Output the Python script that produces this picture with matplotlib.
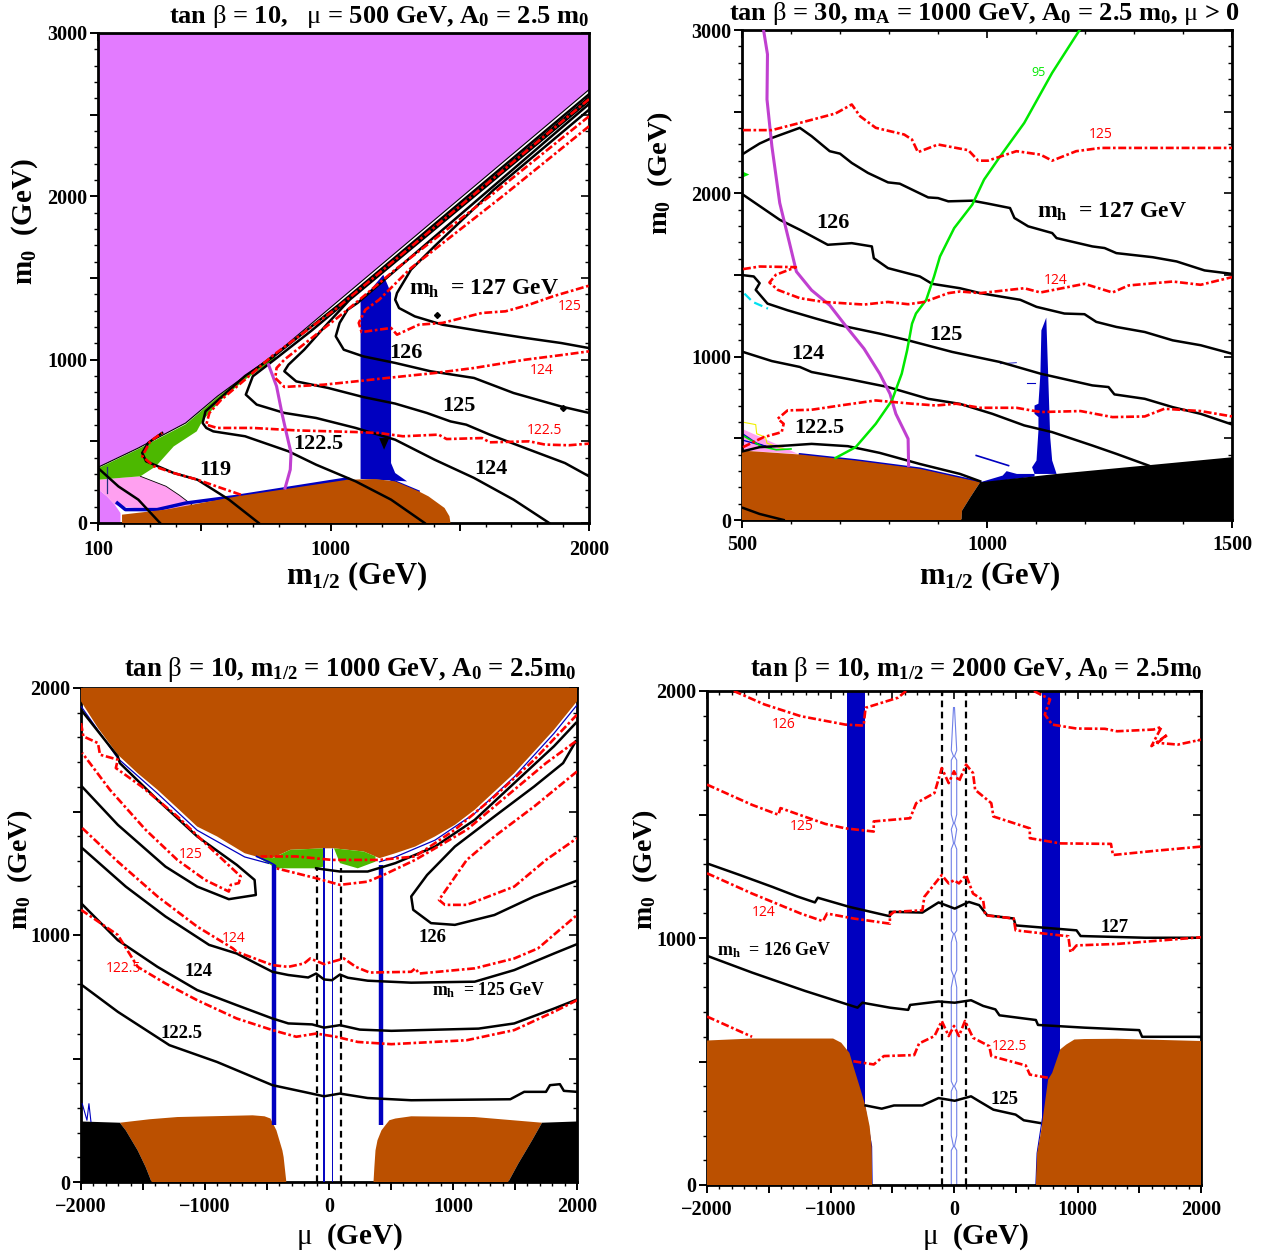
#!/usr/bin/python3
import matplotlib
matplotlib.use('Agg')
import matplotlib.pyplot as plt

plt.rcParams['font.family'] = ['Liberation Serif', 'DejaVu Serif']
plt.rcParams['font.weight'] = 'bold'
plt.rcParams['mathtext.fontset'] = 'custom'
plt.rcParams['mathtext.rm'] = 'Liberation Serif:bold'
plt.rcParams['mathtext.it'] = 'Liberation Serif:weight=regular'
plt.rcParams['mathtext.bf'] = 'Liberation Serif:bold'

W, H = 1267, 1256
PURPLE, PINK, GREEN, BROWN = '#e37bff', '#ffa0f0', '#4cb800', '#bb5000'
BLUE, RED, MAGENTA, LIME = '#0000c0', '#ff0000', '#c040d0', '#00e800'

# ---- top left panel: tan beta = 10, mu = 500
a_purple_x = [100, 100, 256, 439, 562, 791, 944, 2000, 2000]
a_purple_y = [3000, 341, 459, 612, 776, 1041, 1245, 2653, 3000]
a_purple2_x = [100, 187, 187, 165, 135, 103, 100]
a_purple2_y = [0, 0, 61, 112, 163, 204, 265]
a_edge_x = [100, 256, 439, 562, 791, 944, 2000]
a_edge_y = [341, 459, 612, 776, 1041, 1245, 2653]
a_pink_x = [100, 264, 363, 415, 463, 353, 253, 190, 165, 135, 103, 100]
a_pink_y = [265, 286, 225, 170, 112, 71, 90, 100, 112, 163, 204, 265]
a_green_x = [100, 256, 439, 562, 776, 791, 669, 577, 505, 482, 393, 324, 264, 100]
a_green_y = [335, 453, 604, 770, 1031, 1010, 878, 755, 628, 561, 469, 347, 286, 265]
a_brown_x = [193, 193, 361, 638, 1066, 1173, 1250, 1341, 1379, 1441, 1460, 1464]
a_brown_y = [0, 51, 82, 163, 265, 269, 255, 194, 163, 92, 41, 0]
a_blue_x = [1116, 1116, 1204, 1234, 1234, 1250, 1296, 1116]
a_blue_y = [270, 1357, 1520, 1408, 367, 306, 255, 270]
a_rim_x = [175, 206, 329, 439, 638, 1066]
a_rim_y = [122, 82, 82, 122, 163, 270]
a_rim2_x = [1234, 1341]
a_rim2_y = [265, 194]
a_tri_x = [1188, 1227, 1207]
a_tri_y = [520, 520, 449]
a_dot_x = [1413, 1899]
a_dot_y = [1276, 704]
a_stub_x = [134, 134]
a_stub_y = [185, 345]

a_127_x = [2000, 1632, 1402, 1311, 1257, 1250, 1265, 1326, 1433, 1586, 1754, 1892, 2000]
a_127_y = [2530, 2041, 1694, 1551, 1408, 1367, 1316, 1265, 1214, 1174, 1133, 1102, 1071]
a_126_x = [2000, 1104, 1066, 1035, 1020, 1051, 1127, 1250, 1387, 1555, 1708, 1891, 2000]
a_126_y = [2565, 1347, 1306, 1225, 1143, 1061, 1020, 980, 929, 888, 796, 714, 674]
a_125_x = [2000, 1074, 990, 898, 837, 821, 867, 990, 1127, 1250, 1372, 1464, 1525, 1616, 1769, 1907, 2000]
a_125_y = [2585, 1367, 1224, 1061, 969, 929, 867, 827, 771, 731, 674, 622, 602, 541, 449, 367, 286]
a_124_x = [2000, 928, 791, 699, 672, 714, 821, 944, 1097, 1250, 1402, 1555, 1708, 1846]
a_124_y = [2605, 1180, 1010, 898, 786, 725, 674, 643, 582, 510, 388, 276, 143, 0]
a_1225_x = [2000, 1035, 776, 669, 577, 516, 505, 519, 546, 669, 837, 944, 1097, 1234, 1364]
a_1225_y = [2625, 1340, 1015, 900, 770, 684, 612, 582, 561, 531, 439, 357, 255, 143, 0]
a_119_x = [348, 294, 271, 286, 393, 485, 607, 722]
a_119_y = [551, 490, 429, 378, 306, 265, 143, 0]
a_left_x = [100, 179, 256, 340]
a_left_y = [337, 224, 143, 0]
a_black = [(a_127_x, a_127_y), (a_126_x, a_126_y), (a_125_x, a_125_y), (a_124_x, a_124_y),
           (a_1225_x, a_1225_y), (a_119_x, a_119_y), (a_left_x, a_left_y)]

a_r125_x = [2000, 1677, 1311, 1188, 1135, 1109, 1120, 1234, 1257, 1341, 1433, 1586, 1677, 1769, 1861, 2000]
a_r125_y = [2429, 2015, 1561, 1367, 1306, 1225, 1169, 1194, 1153, 1214, 1225, 1286, 1296, 1337, 1388, 1453]
a_r124_x = [2000, 1632, 1250, 1066, 821, 791, 786, 821, 974, 1097, 1219, 1402, 1555, 1754, 1907, 2000]
a_r124_y = [2490, 2020, 1551, 1306, 1000, 949, 888, 833, 847, 867, 888, 918, 949, 1000, 1031, 1051]
a_r1225_x = [2000, 1020, 776, 669, 577, 531, 519, 561, 699, 867, 1097, 1188, 1280, 1418, 1449, 1586, 1616, 1769, 1830, 1922, 2000]
a_r1225_y = [2595, 1310, 1025, 878, 755, 674, 602, 582, 582, 567, 557, 551, 531, 541, 514, 520, 494, 500, 480, 476, 486]
a_r119_x = [653, 577, 485, 393, 317, 271, 302, 348]
a_r119_y = [173, 214, 265, 306, 347, 408, 500, 551]
a_red = [(a_r125_x, a_r125_y), (a_r124_x, a_r124_y), (a_r1225_x, a_r1225_y), (a_r119_x, a_r119_y)]
a_mag_x = [760, 791, 813, 829, 847, 844, 824]
a_mag_y = [969, 837, 663, 551, 429, 327, 214]

# ---- top right panel: tan beta = 30, mA = 1000
b_brown_x = [500, 618, 732, 863, 986, 966, 949, 948, 500]
b_brown_y = [425, 401, 364, 313, 231, 139, 57, 0, 0]
b_black_x = [948, 949, 966, 986, 1142, 1500, 1500]
b_black_y = [0, 57, 139, 231, 282, 384, 0]
b_pink_x = [500, 569, 614, 500]
b_pink_y = [558, 466, 405, 425]
b_spike_x = [1121, 1111, 1109, 1105, 1097, 1097, 1105, 1105, 1101, 1092, 1097, 1142, 1133, 1129, 1125]
b_spike_y = [1239, 1161, 896, 712, 701, 650, 630, 548, 364, 323, 282, 282, 364, 507, 875]
b_blob_x = [986, 1032, 1040, 1061, 1097, 1097, 986]
b_blob_y = [231, 272, 299, 282, 282, 266, 225]
b_rim_x = [618, 732, 863, 986]
b_rim_y = [403, 366, 315, 233]
b_smear_x = [978, 1044]
b_smear_y = [395, 333]
b_bit1_x = [1082, 1098]
b_bit1_y = [838, 838]
b_bit2_x = [1027, 1060]
b_bit2_y = [957, 963]
b_yellow_x = [500, 528, 530, 548, 551, 585]
b_yellow_y = [600, 584, 528, 507, 470, 435]
b_cyan_x = [505, 522, 553]
b_cyan_y = [1386, 1335, 1294]
b_tangle1_x = [500, 530, 560, 500]
b_tangle1_y = [530, 470, 440, 490]
b_tangle2_x = [500, 540, 570, 600]
b_tangle2_y = [520, 450, 430, 435]
b_arrow_x = [500, 515, 500]
b_arrow_y = [2135, 2115, 2095]

b_127_x = [502, 516, 536, 561, 618, 642, 679, 700, 724, 757, 798, 822, 880, 900, 921, 970, 1002, 1047, 1056, 1084, 1133, 1142, 1215, 1240, 1264, 1338, 1387, 1444, 1500]
b_127_y = [2241, 2268, 2305, 2339, 2401, 2350, 2258, 2243, 2186, 2125, 2067, 2059, 1975, 1971, 1951, 1955, 1937, 1910, 1849, 1798, 1757, 1726, 1675, 1665, 1634, 1609, 1583, 1528, 1507]
b_126_x = [502, 577, 618, 675, 724, 765, 769, 798, 863, 888, 945, 986, 1068, 1101, 1158, 1199, 1223, 1264, 1322, 1379, 1436, 1500]
b_126_y = [1992, 1838, 1777, 1685, 1695, 1675, 1603, 1542, 1491, 1446, 1419, 1389, 1348, 1305, 1264, 1260, 1213, 1182, 1151, 1100, 1070, 1018]
b_125_x = [502, 524, 536, 528, 552, 593, 651, 700, 781, 839, 929, 1027, 1109, 1215, 1248, 1260, 1322, 1379, 1436, 1500]
b_125_y = [1499, 1491, 1450, 1409, 1325, 1284, 1233, 1192, 1141, 1100, 1029, 967, 896, 824, 814, 769, 742, 691, 650, 585]
b_124_x = [502, 561, 618, 642, 724, 798, 880, 945, 1011, 1076, 1133, 1215, 1264, 1330]
b_124_y = [1029, 973, 937, 906, 859, 814, 742, 711, 650, 579, 538, 456, 405, 333]
b_1225_x = [502, 536, 593, 642, 716, 781, 863, 945, 986]
b_1225_y = [421, 446, 456, 466, 452, 411, 343, 282, 237]
b_low_x = [502, 536, 585]
b_low_y = [74, 37, 0]
b_black_lines = [(b_127_x, b_127_y), (b_126_x, b_126_y), (b_125_x, b_125_y), (b_124_x, b_124_y),
                 (b_1225_x, b_1225_y), (b_low_x, b_low_y)]

b_r125_x = [502, 561, 618, 691, 724, 741, 773, 831, 847, 859, 900, 962, 982, 1002, 1060, 1109, 1133, 1182, 1232, 1500]
b_r125_y = [2387, 2387, 2431, 2489, 2544, 2472, 2401, 2360, 2329, 2252, 2299, 2264, 2200, 2200, 2258, 2237, 2200, 2258, 2278, 2278]
b_r124_x = [502, 536, 610, 569, 556, 573, 618, 667, 749, 798, 839, 872, 921, 945, 986, 1076, 1109, 1199, 1256, 1289, 1379, 1436, 1500]
b_r124_y = [1536, 1552, 1548, 1501, 1454, 1409, 1358, 1335, 1319, 1335, 1321, 1335, 1389, 1399, 1389, 1419, 1393, 1446, 1393, 1436, 1460, 1440, 1487]
b_r1225_x = [502, 544, 581, 585, 573, 593, 642, 700, 773, 847, 896, 937, 986, 1060, 1109, 1191, 1256, 1322, 1362, 1436, 1500]
b_r1225_y = [446, 507, 538, 589, 620, 671, 675, 701, 732, 712, 701, 712, 687, 687, 661, 667, 630, 634, 681, 667, 634]
b_red = [(b_r125_x, b_r125_y), (b_r124_x, b_r124_y), (b_r1225_x, b_r1225_y)]
b_mag_x = [544, 552, 551, 561, 577, 597, 611, 642, 679, 716, 749, 781, 802, 814, 839, 840]
b_mag_y = [3000, 2851, 2575, 2288, 1941, 1695, 1521, 1407, 1315, 1172, 1049, 896, 773, 650, 497, 333]
b_lime_x = [1189, 1133, 1076, 1027, 994, 970, 933, 904, 892, 876, 855, 847, 837, 826, 806, 773, 732, 691]
b_lime_y = [3000, 2738, 2431, 2227, 2084, 1931, 1787, 1613, 1491, 1348, 1264, 1202, 1039, 896, 732, 589, 446, 380]

# ---- bottom left panel: m1/2 = 1000
c_top_x = [-2000, -2000, -1863, -1703, -1543, -1383, -1223, -1063, -903, -680, -488, -312, -40, 40, 280, 407, 535, 695, 855, 1015, 1175, 1334, 1494, 1654, 1814, 2000, 2000]
c_top_y = [2000, 1946, 1838, 1730, 1655, 1588, 1514, 1439, 1399, 1331, 1304, 1345, 1351, 1351, 1338, 1311, 1331, 1358, 1399, 1446, 1507, 1581, 1655, 1743, 1831, 1946, 2000]
c_green1_x = [-584, -424, -104, -40, -40, -312, -456]
c_green1_y = [1318, 1270, 1270, 1277, 1351, 1345, 1311]
c_green2_x = [40, 88, 232, 375, 375, 280]
c_green2_y = [1351, 1291, 1270, 1297, 1318, 1338]
c_brown1_x = [-1687, -1447, -1223, -616, -520, -472, -424, -408, -376, -366, -344, -1431, -1479, -1543, -1639]
c_brown1_y = [240, 254, 263, 270, 266, 257, 209, 182, 128, 101, 0, 0, 61, 128, 209]
c_brown2_x = [359, 366, 375, 391, 423, 455, 487, 535, 663, 1175, 1718, 1638, 1590, 1526, 1446]
c_brown2_y = [0, 61, 128, 169, 209, 230, 250, 257, 266, 263, 240, 169, 128, 74, 0]
c_black1_x = [-2000, -1687, -1639, -1543, -1479, -1431, -2000]
c_black1_y = [245, 240, 209, 128, 61, 0, 0]
c_black2_x = [1718, 2000, 2000, 1446, 1526, 1590, 1638]
c_black2_y = [240, 245, 0, 0, 74, 128, 169]
c_rim_x = [-2000, -1703, -1383, -1063, -680, -488]
c_rim_y = [1926, 1715, 1573, 1424, 1316, 1290]
c_rim2_x = [407, 535, 855, 1175, 1494, 1814, 2000]
c_rim2_y = [1296, 1316, 1384, 1492, 1640, 1816, 1931]
c_band_x = [-440, 423]
c_thin_x = [-37, 27]
c_band_top = [1284, 1284]
c_hook_x = [-584, -488, -440]
c_hook_y = [1318, 1297, 1284]
c_spike_x = [-1990, -1952, -1936, -1920]
c_spike_y = [317, 250, 317, 245]
c_dash_x = [-100, 100]
c_dash_top = 1270

c_loop_x = [-2000, -1703, -1687, -1383, -1063, -744, -600, -590, -808, -1063, -1319, -1703, -2000]
c_loop_y = [1912, 1723, 1696, 1547, 1399, 1284, 1223, 1162, 1145, 1196, 1277, 1446, 1605]
c_126_x = [-104, 88, 312, 535, 855, 1175, 1494, 1814, 1990]
c_126_y = [1270, 1257, 1257, 1291, 1358, 1466, 1615, 1764, 1858]
c_rloop_x = [1990, 1888, 1654, 1334, 1015, 791, 663, 679, 823, 1015, 1334, 1654, 2000]
c_rloop_y = [1784, 1696, 1601, 1480, 1358, 1243, 1156, 1102, 1048, 1041, 1081, 1156, 1220]
c_125_x = [-2000, -1639, -1319, -967, -744, -456, -328, -168, -104, -40, 24, 88, 152, 312, 663, 1175, 1494, 1814, 2000]
c_125_y = [1356, 1196, 1075, 960, 925, 851, 838, 828, 844, 820, 817, 840, 827, 815, 807, 811, 858, 925, 963]
c_124_x = [-2000, -1703, -1383, -1063, -744, -456, -328, -136, -40, 88, 248, 503, 1206, 1494, 1814, 2000]
c_124_y = [1129, 979, 871, 777, 716, 662, 642, 638, 625, 635, 617, 612, 621, 642, 702, 739]
c_1225_x = [-2000, -1703, -1287, -903, -456, -168, -40, 88, 312, 663, 1462, 1574, 1750, 1782, 1862, 1894, 2000]
c_1225_y = [800, 689, 554, 486, 392, 361, 347, 358, 340, 331, 335, 365, 365, 392, 396, 369, 365]
c_black_lines = [(c_loop_x, c_loop_y), (c_126_x, c_126_y), (c_rloop_x, c_rloop_y), (c_125_x, c_125_y),
                 (c_124_x, c_124_y), (c_1225_x, c_1225_y)]

c_r1_x = [-2000, -1981, -1863, -1847, -1703, -1719, -1511, -1223, -999, -712, -728, -792, -808, -999, -1223, -1479, -1767, -1990]
c_r1_y = [1858, 1804, 1777, 1730, 1710, 1676, 1601, 1480, 1372, 1237, 1210, 1203, 1176, 1223, 1304, 1426, 1588, 1737]
c_r2_x = [-1990, -1703, -1383, -1063, -776, -744, -456, -328, -200, -152, -40, 120, 216, 327, 663, 695, 727, 1175, 1494, 1686, 2000]
c_r2_y = [1433, 1297, 1156, 1034, 946, 932, 878, 871, 885, 905, 882, 905, 871, 848, 851, 865, 844, 865, 905, 946, 1081]
c_r3_x = [-2000, -1703, -1543, -1319, -1063, -744, -456, -264, -104, 56, 232, 503, 1111, 1494, 1814, 2000]
c_r3_y = [1102, 1000, 871, 804, 736, 662, 615, 588, 601, 588, 567, 558, 574, 615, 689, 736]
c_r4_x = [2000, 1654, 1334, 1015, 695, 407, 216, 24, -264, -552]
c_r4_y = [1892, 1709, 1561, 1426, 1318, 1304, 1304, 1304, 1318, 1318]
c_r5_x = [1990, 1750, 1430, 1111, 695, 439, 312, 88, -104, -424]
c_r5_y = [1784, 1696, 1561, 1426, 1304, 1243, 1216, 1203, 1230, 1270]
c_r6_x = [2000, 1654, 1334, 1111, 887, 935, 1111, 1494, 1750, 2000]
c_r6_y = [1662, 1520, 1399, 1304, 1142, 1122, 1122, 1196, 1304, 1392]
c_red = [(c_r1_x, c_r1_y), (c_r2_x, c_r2_y), (c_r3_x, c_r3_y), (c_r4_x, c_r4_y), (c_r5_x, c_r5_y), (c_r6_x, c_r6_y)]

# ---- bottom right panel: m1/2 = 2000
d_brown1_x = [-2000, -1635, -979, -913, -847, -815, -765, -716, -683, -667, -663, -2000]
d_brown1_y = [585, 593, 593, 576, 535, 481, 400, 318, 237, 156, 0, 0]
d_brown2_x = [663, 673, 703, 762, 795, 860, 910, 975, 1057, 1320, 2000, 2000]
d_brown2_y = [0, 129, 210, 427, 454, 549, 569, 589, 591, 592, 583, 0]
d_band_left = [-867, 716]
d_band_right = [-723, 860]
d_rim1_x = [-723, -667, -663]
d_rim1_y = [318, 156, 0]
d_rim2_x = [663, 673, 716]
d_rim2_y = [0, 129, 270]
d_dash_x = [-100, 100]
d_lens_y = [0, 20, 140, 156, 200, 380, 400, 420, 800, 847, 870, 982, 1017, 1030, 1360, 1383, 1440, 1465, 1500, 1720, 1736, 1760, 1933]
d_lens_w = [22, 22, 22, 4, 22, 22, 4, 22, 22, 4, 22, 22, 4, 22, 22, 4, 22, 4, 22, 22, 4, 22, 4]

d_127_x = [-2000, -1734, -1471, -1274, -1126, -1103, -847, -519, -519, -256, -125, 6, 121, 204, 269, 483, 499, 992, 1025, 1550, 2000]
d_127_y = [1302, 1255, 1207, 1169, 1144, 1163, 1126, 1088, 1106, 1103, 1144, 1119, 1146, 1133, 1092, 1079, 1051, 1031, 1008, 1001, 1001]
d_126_x = [-2000, -1635, -1208, -781, -742, -519, -371, -355, -125, 6, 138, 236, 335, 368, 663, 680, 1057, 1500, 1523, 2000]
d_126_y = [928, 860, 786, 718, 738, 718, 709, 729, 743, 738, 748, 725, 711, 687, 668, 648, 637, 627, 600, 600]
d_125_x = [-716, -585, -486, -256, -125, 6, 138, 204, 319, 499, 565, 696]
d_125_y = [322, 309, 322, 322, 352, 341, 359, 339, 305, 285, 262, 251]
d_black = [(d_127_x, d_127_y), (d_126_x, d_126_y), (d_125_x, d_125_y)]

d_r126a_x = [-1783, -1537, -1241, -880, -732, -716, -453, -388]
d_r126a_y = [2000, 1946, 1898, 1864, 1860, 1932, 1973, 2000]
d_r126b_x = [647, 778, 735, 795, 992, 1222, 1320, 1616, 1681, 1599, 1731, 1648, 1813, 2000]
d_r126b_y = [2000, 1966, 1905, 1864, 1848, 1847, 1837, 1844, 1855, 1777, 1824, 1790, 1783, 1803]
d_r125_x = [-2000, -1635, -1422, -1405, -1043, -880, -650, -650, -355, -306, -158, -99, -43, 0, 40, 98, 154, 171, 302, 319, 614, 614, 861, 1271, 1287, 1648, 2000]
d_r125_y = [1621, 1539, 1499, 1526, 1462, 1444, 1431, 1472, 1485, 1546, 1587, 1688, 1627, 1675, 1634, 1702, 1668, 1600, 1546, 1492, 1444, 1404, 1383, 1381, 1336, 1354, 1370]
d_r124_x = [-2000, -1635, -1241, -1061, -1028, -814, -519, -519, -486, -256, -240, -99, -43, 0, 40, 98, 154, 236, 253, 483, 499, 926, 943, 992, 1320, 2000]
d_r124_y = [1262, 1180, 1099, 1068, 1099, 1079, 1058, 1092, 1106, 1112, 1167, 1255, 1221, 1234, 1221, 1255, 1180, 1153, 1092, 1079, 1031, 1007, 942, 970, 976, 1003]
d_r1225a_x = [-2000, -1635]
d_r1225a_y = [682, 600]
d_r1225b_x = [-815, -650, -568, -322, -283, -158, -99, -43, 0, 40, 89, 154, 286, 302, 581, 614, 762]
d_r1225b_y = [501, 488, 522, 526, 573, 603, 664, 603, 644, 603, 664, 596, 562, 522, 484, 447, 434]
d_red = [(d_r126a_x, d_r126a_y), (d_r126b_x, d_r126b_y), (d_r125_x, d_r125_y), (d_r124_x, d_r124_y),
         (d_r1225a_x, d_r1225a_y), (d_r1225b_x, d_r1225b_y)]

# ---- tick marks and labels
xt_a = [100, 500, 1000, 1500, 2000]
xl_a = ['100', '', '1000', '', '2000']
xt_b = [500, 1000, 1500]
xl_b = ['500', '1000', '1500']
xt_mu = [-2000, -1500, -1000, -500, 0, 500, 1000, 1500, 2000]
xl_mu = ['\u22122000', '', '\u22121000', '', '0', '', '1000', '', '2000']
yt_3000 = [0, 500, 1000, 1500, 2000, 2500, 3000]
yl_3000 = ['0', '', '1000', '', '2000', '', '3000']
yt_2000 = [0, 500, 1000, 1500, 2000]
yl_2000 = ['0', '', '1000', '', '2000']

TITLE_A = r'tan $\mathit{β}$ = 10,   $\mathit{μ}$ = 500 GeV, A$_{\mathrm{0}}$ = 2.5 m$_{\mathrm{0}}$'
TITLE_B = r'tan $\mathit{β}$ = 30, m$_{\mathrm{A}}$ = 1000 GeV, A$_{\mathrm{0}}$ = 2.5 m$_{\mathrm{0}}$, $\mathit{μ}$ > 0'
TITLE_C = r'tan $\mathit{β}$ = 10, m$_{\mathrm{1/2}}$ = 1000 GeV, A$_{\mathrm{0}}$ = 2.5m$_{\mathrm{0}}$'
TITLE_D = r'tan $\mathit{β}$ = 10, m$_{\mathrm{1/2}}$ = 2000 GeV, A$_{\mathrm{0}}$ = 2.5m$_{\mathrm{0}}$'
M0 = r'm$_{\mathrm{0}}$  (GeV)'
M12 = r'm$_{\mathrm{1/2}}$ (GeV)'
MU = r'$\mathit{μ}$  (GeV)'

fig = plt.figure(figsize=(W / 100, H / 100), dpi=100)


def px(x, y, s, size=16, color='k', ha='center', va='center', **kw):
    fig.text(x / W, 1 - y / H, s, fontsize=size, color=color, ha=ha, va=va, **kw)


def red_label(x, y, s):
    px(x, y, s, size=10, color=RED, family='Open Sans', weight='normal')


def panel(box, xlim, ylim, xt, xl, yt, yl, xminor, xpad, top=True):
    left, top_px, right, bottom = box
    ax = fig.add_axes([left / W, 1 - bottom / H, (right - left) / W, (bottom - top_px) / H])
    ax.set_xlim(xlim)
    ax.set_ylim(ylim)
    ax.set_xticks(xt, xl)
    ax.set_yticks(yt, yl)
    ax.set_xticks(xminor, minor=True)
    ax.set_yticks(range(ylim[0], ylim[1] + 1, 100), minor=True)
    ax.tick_params(axis='x', which='major', direction='out', length=6, width=1.4, pad=xpad, labelsize=14.5)
    ax.tick_params(axis='y', which='major', direction='out', length=6, width=1.4, pad=1.5, labelsize=14.5)
    ax.tick_params(which='minor', direction='out', length=3, width=1)
    for sp in ax.spines.values():
        sp.set_linewidth(2)
    if top:
        sec = ax.secondary_xaxis('top')
        sec.set_xticks(xt, [''] * len(xt))
        sec.set_xticks(xminor, minor=True)
        sec.tick_params(which='major', direction='in', length=6, width=1.2)
        sec.tick_params(which='minor', direction='in', length=3, width=1)
        sec.spines['top'].set_visible(False)
    sec = ax.secondary_yaxis('right')
    sec.set_yticks(yt, [''] * len(yt))
    sec.set_yticks(range(ylim[0], ylim[1] + 1, 100), minor=True)
    sec.tick_params(which='major', direction='in', length=6, width=1.2)
    sec.tick_params(which='minor', direction='in', length=3, width=1)
    sec.spines['right'].set_visible(False)
    return ax


def blacks(ax, curves):
    for x, y in curves:
        ax.plot(x, y, color='k', lw=1.8, zorder=5)


def reds(ax, curves):
    for x, y in curves:
        ax.plot(x, y, color=RED, lw=1.9, ls=(0, (3, 1, 1, 1)), zorder=6)


# top left
ax = panel((98, 33, 589, 523), (100, 2000), (0, 3000), xt_a, xl_a, yt_3000, yl_3000, range(100, 2001, 100), 6)
ax.fill(a_purple_x, a_purple_y, color=PURPLE, lw=0, zorder=1)
ax.fill(a_purple2_x, a_purple2_y, color=PURPLE, lw=0, zorder=1)
ax.fill(a_pink_x, a_pink_y, color=PINK, lw=0, zorder=1)
ax.plot(a_pink_x[1:5], a_pink_y[1:5], color='k', lw=0.6, zorder=2)
ax.fill(a_green_x, a_green_y, color=GREEN, lw=0, zorder=2)
ax.fill(a_blue_x, a_blue_y, color=BLUE, lw=0, zorder=3)
ax.fill(a_brown_x, a_brown_y, color=BROWN, lw=0, zorder=4)
ax.plot(a_rim_x, a_rim_y, color=BLUE, lw=2.5, zorder=3)
ax.plot(a_rim2_x, a_rim2_y, color=BLUE, lw=1.5, zorder=3)
ax.plot(a_stub_x, a_stub_y, color='#203080', lw=0.9, zorder=3)
ax.fill(a_tri_x, a_tri_y, color='k', lw=0, zorder=5)
ax.plot(a_dot_x, a_dot_y, ls='none', marker='D', ms=3, color='k', zorder=5)
ax.plot(a_edge_x, a_edge_y, color='k', lw=0.8, zorder=5)
blacks(ax, a_black)
reds(ax, a_red)
ax.plot(a_mag_x, a_mag_y, color=MAGENTA, lw=2.2, zorder=5)
px(589, 23, TITLE_A, size=19, ha='right', va='baseline')
px(25, 222, M0, size=21, rotation=90)
px(357, 584, M12, size=22, va='baseline')
px(409, 295, r'm$_{\mathrm{h}}$  = 127 GeV', size=17, ha='left', va='baseline')
px(406, 353, '126')
px(459, 406, '125')
px(491, 469, '124')
px(318, 444, '122.5')
px(215, 470, '119')
red_label(570, 307, '125')
red_label(542, 370, '124')
red_label(544, 431, '122.5')

# top right
ax = panel((742, 30, 1232, 520), (500, 1500), (0, 3000), xt_b, xl_b, yt_3000, yl_3000, range(500, 1501, 100), 5)
ax.fill(b_pink_x, b_pink_y, color=PINK, lw=0, zorder=1)
ax.plot(b_yellow_x, b_yellow_y, color='#f0f000', lw=0.8, zorder=2)
ax.plot(b_cyan_x, b_cyan_y, color='#00e0f0', lw=1.6, ls=(0, (4, 2)), zorder=2)
ax.plot(b_tangle1_x, b_tangle1_y, color=BLUE, lw=1, zorder=2)
ax.plot(b_tangle2_x, b_tangle2_y, color=LIME, lw=1.2, zorder=2)
ax.fill(b_arrow_x, b_arrow_y, color=LIME, lw=0, zorder=2)
ax.fill(b_spike_x, b_spike_y, color=BLUE, lw=0, zorder=3)
ax.fill(b_blob_x, b_blob_y, color=BLUE, lw=0, zorder=3)
ax.plot(b_smear_x, b_smear_y, color=BLUE, lw=1.2, zorder=3)
ax.plot(b_bit1_x, b_bit1_y, color=BLUE, lw=0.8, zorder=3)
ax.plot(b_bit2_x, b_bit2_y, color=BLUE, lw=0.6, zorder=3)
ax.plot(b_rim_x, b_rim_y, color=BLUE, lw=1.6, zorder=3)
ax.fill(b_brown_x, b_brown_y, color=BROWN, lw=0, zorder=4)
ax.fill(b_black_x, b_black_y, color='k', lw=0, zorder=4)
blacks(ax, b_black_lines)
reds(ax, b_red)
ax.plot(b_mag_x, b_mag_y, color=MAGENTA, lw=2.2, zorder=5)
ax.plot(b_lime_x, b_lime_y, color=LIME, lw=1.8, zorder=5)
px(985, 20, TITLE_B, size=19, va='baseline')
px(660, 173, M0, size=20.5, rotation=90)
px(990, 584, M12, size=22, va='baseline')
px(1037, 218, r'm$_{\mathrm{h}}$  = 127 GeV', size=17, ha='left', va='baseline')
px(833, 223, '126')
px(946, 335, '125')
px(808, 354, '124')
px(819, 428, '122.5')
red_label(1101, 134, '125')
red_label(1056, 281, '124')
px(1038, 72, '95', size=9, color=LIME, family='Open Sans', weight='normal')

# bottom left
ax = panel((81, 688, 577, 1182), (-2000, 2000), (0, 2000), xt_mu, xl_mu, yt_2000, yl_2000, range(-2000, 2001, 100), 5, top=False)
ax.fill(c_top_x, c_top_y, color=BROWN, lw=0, zorder=3)
ax.fill(c_green1_x, c_green1_y, color=GREEN, lw=0, zorder=4)
ax.fill(c_green2_x, c_green2_y, color=GREEN, lw=0, zorder=4)
ax.fill(c_brown1_x, c_brown1_y, color=BROWN, lw=0, zorder=3)
ax.fill(c_brown2_x, c_brown2_y, color=BROWN, lw=0, zorder=3)
ax.fill(c_black1_x, c_black1_y, color='k', lw=0, zorder=3)
ax.fill(c_black2_x, c_black2_y, color='k', lw=0, zorder=3)
ax.plot(c_rim_x, c_rim_y, color=BLUE, lw=0.9, zorder=4)
ax.plot(c_rim2_x, c_rim2_y, color=BLUE, lw=0.9, zorder=4)
ax.plot(c_hook_x, c_hook_y, color=BLUE, lw=1.2, zorder=4)
ax.vlines(c_band_x, 230, c_band_top, color=BLUE, lw=3.2, zorder=4)
ax.vlines(c_thin_x[0], 0, 1351, color=BLUE, lw=1.4, zorder=4)
ax.vlines(c_thin_x[1], 0, 1351, color=BLUE, lw=0.7, zorder=4)
ax.plot(c_spike_x, c_spike_y, color=BLUE, lw=0.8, zorder=4)
ax.vlines(c_dash_x, 0, c_dash_top, color='k', lw=1.6, ls=(0, (3, 2)), zorder=5)
blacks(ax, c_black_lines)
reds(ax, c_red)
px(350, 676, TITLE_C, size=19.3, va='baseline')
px(20, 870, M0, size=20, rotation=90)
px(349, 1244, MU, size=21, va='baseline')
px(433, 937, '126', size=13.5)
px(432, 995, r'm$_{\mathrm{h}}$  = 125 GeV', size=12.8, ha='left', va='baseline')
px(198, 972, '124', size=13.5)
px(182, 1033, '122.5', size=13.5)
red_label(191, 855, '125')
red_label(234, 938, '124')
red_label(123, 968, '122.5')

# bottom right
ax = panel((707, 691, 1201, 1185), (-2000, 2000), (0, 2000), xt_mu, xl_mu, yt_2000, yl_2000, range(-2000, 2001, 100), 4.5)
for left, right in zip(d_band_left, d_band_right):
    ax.axvspan(left, right, color=BLUE, lw=0, zorder=1)
ax.fill(d_brown1_x, d_brown1_y, color=BROWN, lw=0, zorder=3)
ax.fill(d_brown2_x, d_brown2_y, color=BROWN, lw=0, zorder=3)
ax.plot(d_rim1_x, d_rim1_y, color=BLUE, lw=0.8, zorder=2)
ax.plot(d_rim2_x, d_rim2_y, color=BLUE, lw=0.8, zorder=2)
ax.plot(d_lens_w, d_lens_y, color='#7080e8', lw=0.8, zorder=2)
ax.plot([-w for w in d_lens_w], d_lens_y, color='#7080e8', lw=0.8, zorder=2)
ax.vlines(d_dash_x, 0, 2000, color='k', lw=1.6, ls=(0, (3, 2)), zorder=5)
blacks(ax, d_black)
reds(ax, d_red)
px(976, 676, TITLE_D, size=19.3, va='baseline')
px(645, 870, M0, size=20, rotation=90)
px(975, 1244, MU, size=21, va='baseline')
px(717, 955, r'm$_{\mathrm{h}}$  = 126 GeV', size=13, ha='left', va='baseline')
px(1115, 927, '127', size=13.5)
px(1005, 1100, '125', size=13.5)
red_label(784, 725, '126')
red_label(802, 827, '125')
red_label(764, 913, '124')
red_label(1009, 1046, '122.5')

fig.savefig('out.png', dpi=100)
